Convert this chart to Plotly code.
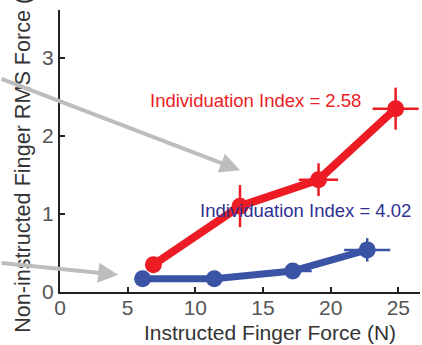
import plotly.graph_objects as go

# Data
red_x = [6.9, 13.3, 19.1, 24.8]
red_y = [0.35, 1.10, 1.44, 2.35]
red_ex = [0.3, 0.4, 1.45, 1.7]
red_ey = [0.05, 0.27, 0.21, 0.27]

blue_x = [6.1, 11.4, 17.2, 22.7]
blue_y = [0.17, 0.17, 0.27, 0.54]
blue_ex = [0.3, 0.5, 1.4, 1.7]
blue_ey = [0.03, 0.03, 0.05, 0.15]

x_ticks = [0, 5, 10, 15, 20, 25]
y_ticks = [0, 1, 2, 3]

RED = "#ED1C24"
BLUE = "#3A53A4"
BLUE_TXT = "#2E3192"
GRAY = "#BDBDBD"
FONT = "Liberation Sans, Arial, sans-serif"

fig = go.Figure()
fig.add_trace(go.Scatter(
    x=blue_x, y=blue_y, mode="lines+markers",
    line=dict(color=BLUE, width=7),
    marker=dict(color=BLUE, size=17),
    error_x=dict(type="data", array=blue_ex, color=BLUE, thickness=2.5, width=0),
    error_y=dict(type="data", array=blue_ey, color=BLUE, thickness=2.5, width=0),
    cliponaxis=False,
))
fig.add_trace(go.Scatter(
    x=red_x, y=red_y, mode="lines+markers",
    line=dict(color=RED, width=8),
    marker=dict(color=RED, size=17),
    error_x=dict(type="data", array=red_ex, color=RED, thickness=2.5, width=0),
    error_y=dict(type="data", array=red_ey, color=RED, thickness=2.5, width=0),
    cliponaxis=False,
))

annotations = [
    dict(x=0.583, y=-0.142, xref="paper", yref="paper",
         text="Instructed Finger Force (N)", showarrow=False,
         xanchor="center", yanchor="middle",
         font=dict(family=FONT, size=21, color="#333333")),
    dict(x=-0.1028, y=-0.150, xref="paper", yref="paper",
         text="Non-instructed Finger RMS Force (N)", showarrow=False,
         textangle=-90, xanchor="center", yanchor="bottom",
         font=dict(family=FONT, size=21.6, color="#333333")),
    dict(x=13.3, y=1.56, xref="x", yref="y", text="", showarrow=True,
         ax=-245, ay=-92, axref="pixel", ayref="pixel",
         arrowhead=2, arrowsize=1, arrowwidth=4, arrowcolor=GRAY, standoff=0),
    dict(x=4.3, y=0.22, xref="x", yref="y", text="", showarrow=True,
         ax=-123, ay=-12, axref="pixel", ayref="pixel",
         arrowhead=2, arrowsize=1, arrowwidth=4, arrowcolor=GRAY, standoff=0),
    dict(x=6.5, y=2.46, xref="x", yref="y", text="Individuation Index = 2.58",
         showarrow=False, xanchor="left", yanchor="middle",
         font=dict(family=FONT, size=18.5, color=RED)),
    dict(x=10.2, y=1.05, xref="x", yref="y", text="Individuation Index = 4.02",
         showarrow=False, xanchor="left", yanchor="middle",
         font=dict(family=FONT, size=18.5, color=BLUE_TXT)),
]

fig.update_layout(
    width=422, height=345,
    margin=dict(l=60, r=2, t=10, b=53),
    paper_bgcolor="white", plot_bgcolor="white",
    showlegend=False,
    annotations=annotations,
    font=dict(family=FONT),
)
fig.update_xaxes(
    range=[0, 26.6], tickvals=x_ticks, ticktext=[str(v) for v in x_ticks],
    showgrid=False, zeroline=False, showline=True, linecolor="#222222", linewidth=2,
    ticks="inside", ticklen=5, tickwidth=2, tickcolor="#222222",
    ticklabelstandoff=-4,
    tickfont=dict(family=FONT, size=21, color="#555555"),
)
fig.update_yaxes(
    range=[0, 3.615], tickvals=y_ticks, ticktext=[str(v) for v in y_ticks],
    showgrid=False, zeroline=False, showline=True, linecolor="#222222", linewidth=2,
    ticks="inside", ticklen=5, tickwidth=2, tickcolor="#222222",
    tickfont=dict(family=FONT, size=21, color="#555555"),
)

fig.write_html("out.html")
